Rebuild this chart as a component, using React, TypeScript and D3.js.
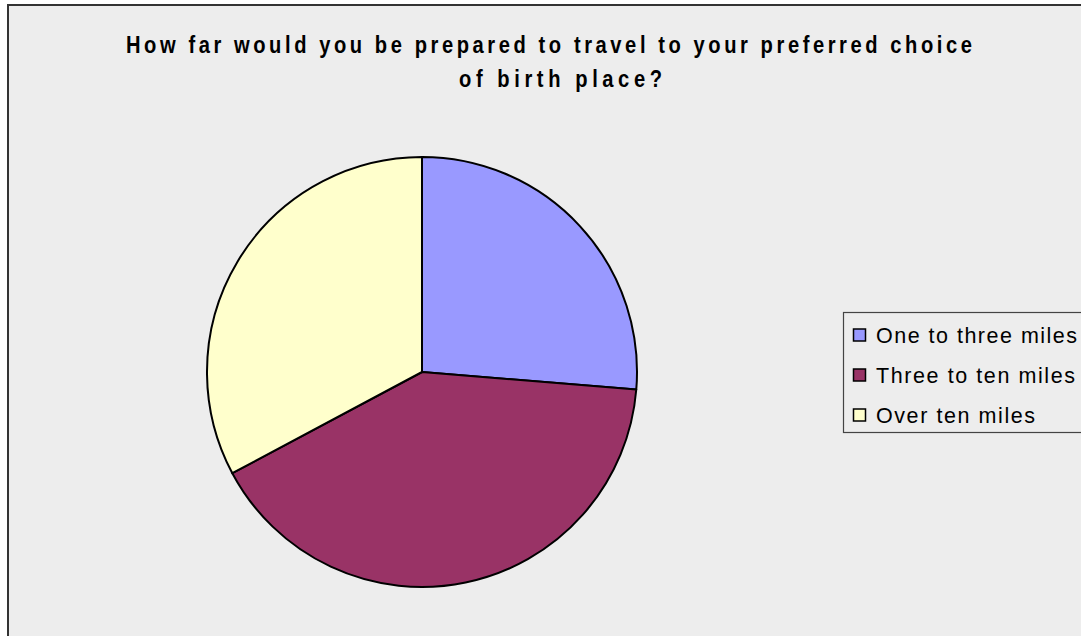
import React from "react";
import * as d3 from "d3";

const categories = ["One to three miles", "Three to ten miles", "Over ten miles"];
const values = [26.3, 40.9, 32.8];
const colors = ["#9999FF", "#993366", "#FFFFCC"];
const titleLines = [
  "How far would you be prepared to travel to your preferred choice",
  "of birth place?",
];

const W = 1081;
const H = 636;
const cx = 422;
const cy = 372;
const R = 215;
const SX = 0.84;

export default function App() {
  const pie = d3.pie<number>().sort(null).value((d) => d);
  const arcs = pie(values);
  const arc = d3.arc<d3.PieArcDatum<number>>().innerRadius(0).outerRadius(R);

  const legendY = d3.scaleBand<number>().domain(categories.map((_, i) => i)).range([315, 435]);
  const legendTextLen = [201, 199, 159];

  return (
    <svg
      width={W}
      height={H}
      style={{ position: "absolute", left: 0, top: 0, display: "block" }}
      fontFamily="'Liberation Sans', Arial, sans-serif"
    >
      <rect x={0} y={0} width={W} height={H} fill="#ffffff" />
      <rect x={8} y={5} width={W + 20} height={H + 20} fill="#EDEDED" stroke="#333" strokeWidth={2} />
      <g transform={`translate(126,53) scale(${SX},1)`}>
        <text x={0} y={0} fontSize={24} fontWeight="bold" fill="#000" textLength={846 / SX} lengthAdjust="spacing">
          {titleLines[0]}
        </text>
      </g>
      <g transform={`translate(459,87) scale(${SX},1)`}>
        <text x={0} y={0} fontSize={24} fontWeight="bold" fill="#000" textLength={203 / SX} lengthAdjust="spacing">
          {titleLines[1]}
        </text>
      </g>
      <g transform={`translate(${cx},${cy})`}>
        {arcs.map((a, i) => (
          <path key={i} d={arc(a) || ""} fill={colors[i]} stroke="#000" strokeWidth={2} strokeLinejoin="round" />
        ))}
      </g>
      <rect x={843.5} y={312.5} width={260} height={120} fill="#EDEDED" stroke="#444" strokeWidth={1.2} />
      {categories.map((c, i) => {
        const y0 = (legendY(i) as number) + legendY.bandwidth() / 2;
        return (
          <g key={c}>
            <rect x={853.5} y={y0 - 6} width={12} height={12} fill={colors[i]} stroke="#000" strokeWidth={1.5} />
            <text x={876} y={y0 + 8} fontSize={21.5} fill="#000" textLength={legendTextLen[i]} lengthAdjust="spacing">
              {c}
            </text>
          </g>
        );
      })}
    </svg>
  );
}
